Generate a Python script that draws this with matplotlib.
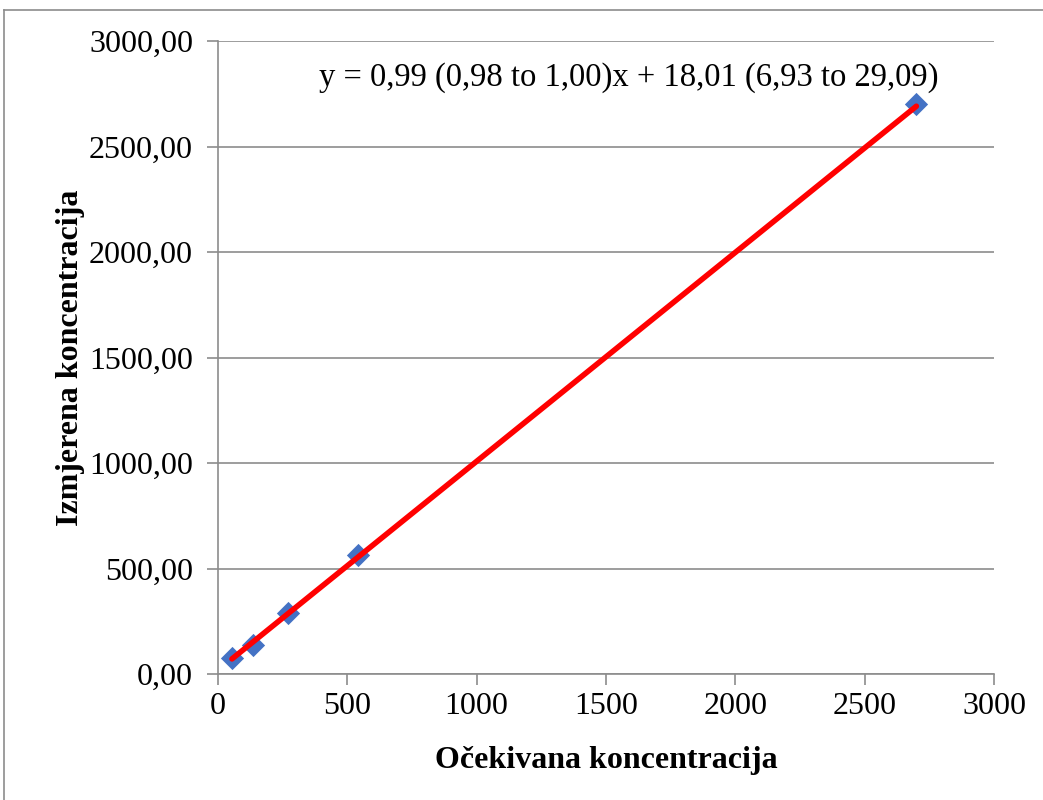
import numpy as np
import matplotlib.pyplot as plt
from matplotlib.lines import Line2D

# expected vs measured concentration
expected = [54, 135, 270, 540, 2700]
measured = [75, 138, 289, 562, 2700]
slope = 0.99
intercept = 18.01
eq_text = 'y = 0,99 (0,98 to 1,00)x + 18,01 (6,93 to 29,09)'

plt.rcParams['font.family'] = ['Liberation Serif', 'DejaVu Serif']

fig = plt.figure(figsize=(10.43, 8), dpi=100)
ax = fig.add_axes([0.209, 0.1575, 0.744, 0.79125])

grey = '#8c8c8c'
ax.set_xlim(0, 3000)
ax.set_ylim(0, 3000)
ax.set_xticks(np.arange(0, 3001, 500))
ax.set_yticks(np.arange(0, 3001, 500))
ax.set_yticklabels([('%.2f' % v).replace('.', ',') for v in ax.get_yticks()])
ax.yaxis.grid(True, color=grey, linewidth=1.2)
ax.set_axisbelow(True)
for s in ['top', 'right']:
    ax.spines[s].set_visible(False)
for s in ['left', 'bottom']:
    ax.spines[s].set_color(grey)
    ax.spines[s].set_linewidth(1.2)
ax.tick_params(axis='both', colors=grey, length=8, width=1.2, labelsize=23,
               labelcolor='black')
ax.tick_params(axis='y', pad=10)
ax.tick_params(axis='x', pad=5)

x_line = np.array([min(expected), max(expected)])
ax.plot(x_line, slope * x_line + intercept, color='#ff0000', linewidth=4,
        solid_capstyle='round', zorder=3)
ax.scatter(expected, measured, marker='D', s=140, color='#4472c4', zorder=2,
           linewidths=0)

ax.text(319 / 1043, 1 - 78 / 800, eq_text, transform=fig.transFigure,
        ha='left', va='center', fontsize=23.5)

ax.set_xlabel('Očekivana koncentracija', fontsize=23, fontweight='bold', labelpad=18)
ax.set_ylabel('Izmjerena koncentracija', fontsize=23, fontweight='bold')
ax.yaxis.set_label_coords(-0.172, 0.5)

# outer chart frame
fig.add_artist(Line2D([0.004, 1.0], [0.9875, 0.9875], color=grey, linewidth=1.2))
fig.add_artist(Line2D([0.004, 0.004], [0.0, 0.9875], color=grey, linewidth=1.2))

fig.savefig('out.png', dpi=100)
